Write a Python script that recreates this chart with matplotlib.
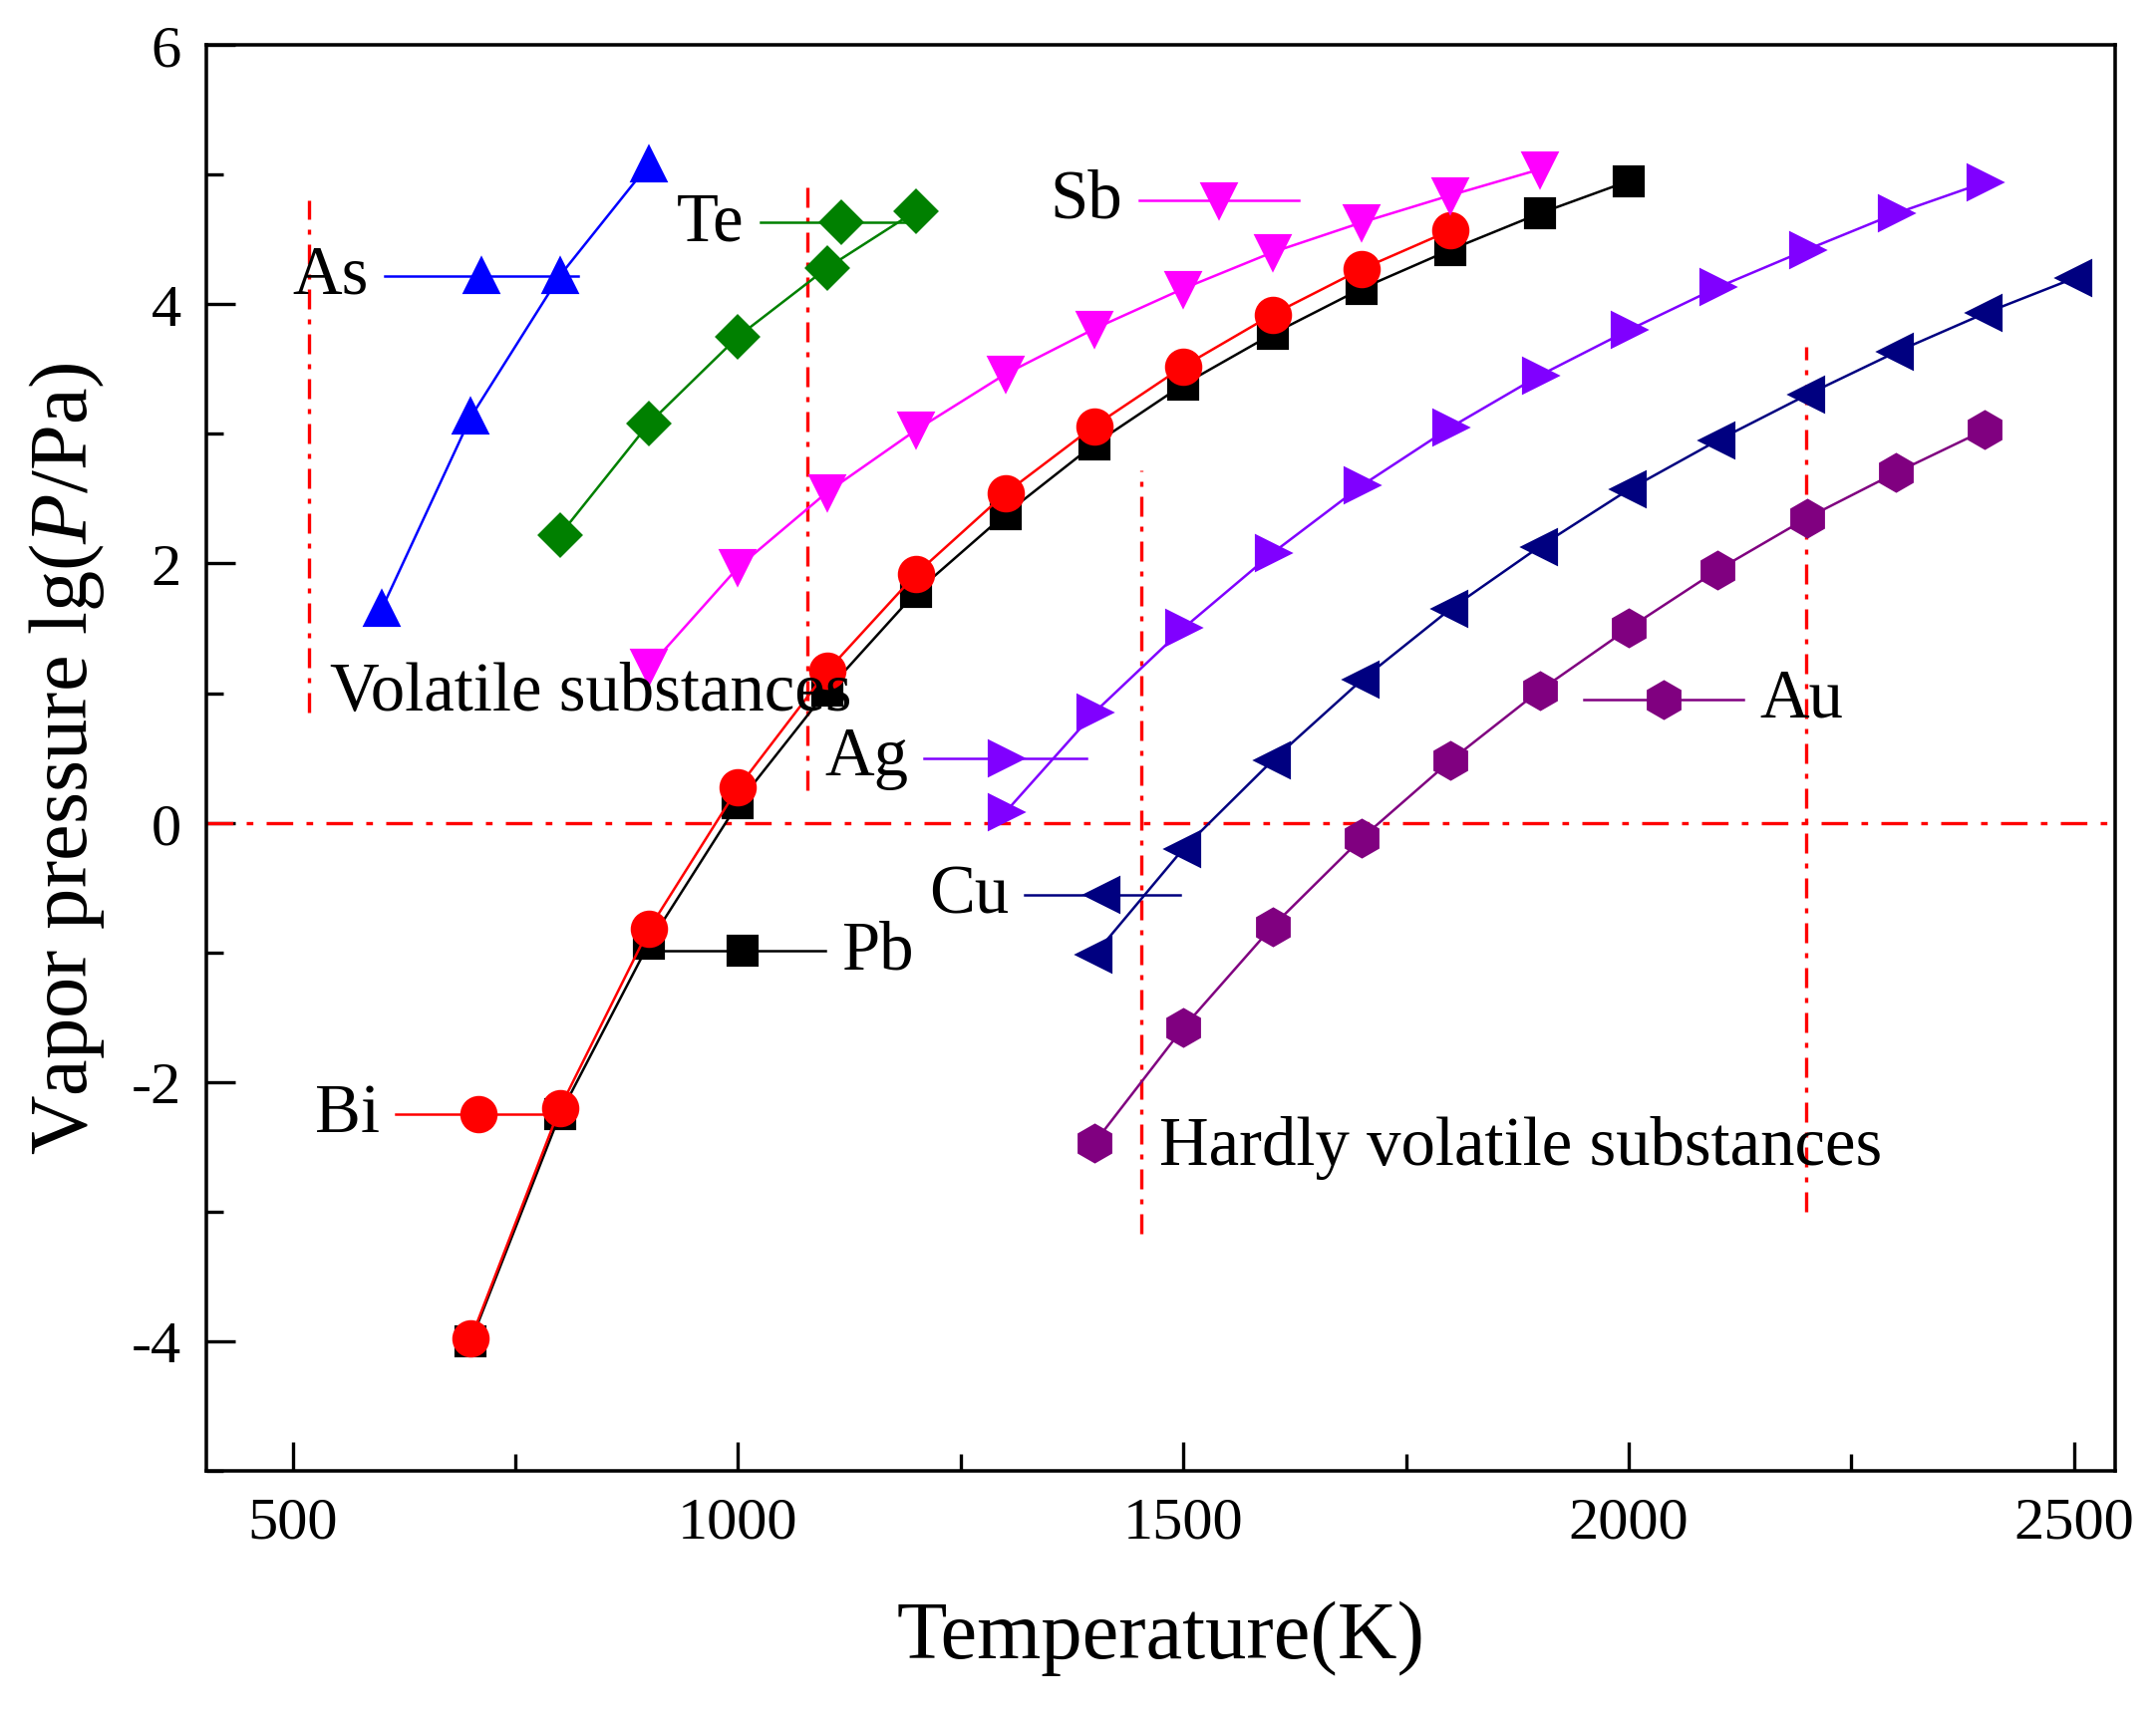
import numpy as np
import matplotlib
matplotlib.use('Agg')
import matplotlib.pyplot as plt

plt.rcParams['font.family'] = ['Liberation Serif', 'DejaVu Serif']
plt.rcParams['mathtext.fontset'] = 'custom'
plt.rcParams['mathtext.rm'] = 'Liberation Serif'
plt.rcParams['mathtext.it'] = 'Liberation Serif:italic'
plt.rcParams['axes.unicode_minus'] = False

# temperatures (K) and lg(P/Pa) for each element
T_pb = [700, 800, 900, 1000, 1100, 1200, 1300, 1400, 1500, 1600, 1700, 1800, 1900, 2000]
P_pb = [-4.0, -2.25, -0.93, 0.15, 1.02, 1.78, 2.38, 2.92, 3.38, 3.77, 4.12, 4.42, 4.70, 4.95]

T_bi = [700, 800, 900, 1000, 1100, 1200, 1300, 1400, 1500, 1600, 1700, 1800]
P_bi = [-3.98, -2.2, -0.82, 0.27, 1.17, 1.92, 2.54, 3.06, 3.52, 3.92, 4.27, 4.57]

T_as = [600, 700, 800, 900]
P_as = [1.65, 3.13, 4.22, 5.08]

T_te = [800, 900, 1000, 1100, 1200]
P_te = [2.22, 3.08, 3.75, 4.28, 4.72]

T_sb = [900, 1000, 1100, 1200, 1300, 1400, 1500, 1600, 1700, 1800, 1900]
P_sb = [1.2, 1.97, 2.55, 3.03, 3.46, 3.81, 4.12, 4.40, 4.63, 4.84, 5.04]

T_ag = [1300, 1400, 1500, 1600, 1700, 1800, 1900, 2000, 2100, 2200, 2300, 2400]
P_ag = [0.08, 0.85, 1.5, 2.08, 2.6, 3.05, 3.45, 3.8, 4.13, 4.42, 4.7, 4.94]

T_cu = [1400, 1500, 1600, 1700, 1800, 1900, 2000, 2100, 2200, 2300, 2400, 2500]
P_cu = [-1.02, -0.2, 0.48, 1.1, 1.65, 2.13, 2.57, 2.95, 3.3, 3.63, 3.93, 4.2]

T_au = [1400, 1500, 1600, 1700, 1800, 1900, 2000, 2100, 2200, 2300, 2400]
P_au = [-2.47, -1.58, -0.8, -0.12, 0.48, 1.02, 1.5, 1.95, 2.35, 2.7, 3.03]

fig = plt.figure(figsize=(2163 / 300, 1731 / 300), dpi=300)
ax = fig.add_axes([0.0957, 0.1467, 0.8853, 0.8267])

# (name, T, P, colour, marker, size, label x0, x1, y, text side)
series = [
    ('Pb', T_pb, P_pb, 'black', 's', 6.8, 912, 1098, -0.99, 'right'),
    ('Bi', T_bi, P_bi, 'red', 'o', 8, 616, 801, -2.25, 'left'),
    ('As', T_as, P_as, 'blue', '^', 7.8, 603, 820, 4.22, 'left'),
    ('Te', T_te, P_te, 'green', 'D', 6.8, 1025, 1206, 4.63, 'left'),
    ('Sb', T_sb, P_sb, 'magenta', 'v', 7.8, 1450, 1630, 4.8, 'left'),
    ('Ag', T_ag, P_ag, '#8000FF', '>', 7.8, 1209, 1391, 0.5, 'left'),
    ('Cu', T_cu, P_cu, '#000080', '<', 7.8, 1322, 1496, -0.56, 'left'),
    ('Au', T_au, P_au, '#800080', 'h', 8.5, 1950, 2129, 0.95, 'right'),
]

for name, T, P, c, m, ms, x0, x1, ly, side in series:
    ax.plot(T, P, color=c, marker=m, markersize=ms, linewidth=0.6,
            markeredgecolor=c, zorder=3)
    # Origin-style inline legend sample
    ax.plot([x0, x1], [ly, ly], color=c, linewidth=0.6, zorder=3)
    ax.plot([(x0 + x1) / 2], [ly], color=c, marker=m, markersize=ms, zorder=3)
    if side == 'left':
        ax.text(x0 - 18, ly, name, fontsize=16.5, ha='right', va='center')
    else:
        ax.text(x1 + 18, ly, name, fontsize=16.5, ha='left', va='center')

# reference lines
ax.axhline(0, color='red', linewidth=0.8, linestyle=(0, (8, 4, 2, 4)), zorder=2)
vlines = [(518, 0.85, 4.8), (1078, 0.25, 4.92), (1453, -3.17, 2.72), (2199, -3.0, 3.67)]
for x, y0, y1 in vlines:
    ax.plot([x, x], [y0, y1], color='red', linewidth=0.8,
            linestyle=(0, (6, 3, 1.5, 3)), zorder=2)

ax.text(542, 1.0, 'Volatile substances', fontsize=16.5, ha='left', va='center', zorder=4)
ax.text(1473, -2.5, 'Hardly volatile substances', fontsize=16.5, ha='left', va='center', zorder=4)

ax.set_xlim(403, 2546)
ax.set_ylim(-5, 6)
ax.set_xticks([500, 1000, 1500, 2000, 2500])
ax.set_xticks([750, 1250, 1750, 2250], minor=True)
ax.set_yticks([-4, -2, 0, 2, 4, 6])
ax.set_yticks([-5, -3, -1, 1, 3, 5], minor=True)
ax.tick_params(which='both', direction='in', top=False, right=False,
               width=0.8, labelsize=14.5, pad=6)
ax.tick_params(which='major', length=7)
ax.tick_params(which='minor', length=4)
for s in ax.spines.values():
    s.set_linewidth(0.85)

ax.set_xlabel('Temperature(K)', fontsize=19.8, labelpad=12)
ax.set_ylabel(r'Vapor pressure lg($\mathit{P}$/Pa)', fontsize=19.8, labelpad=6)

fig.savefig('out.png', dpi=300)
